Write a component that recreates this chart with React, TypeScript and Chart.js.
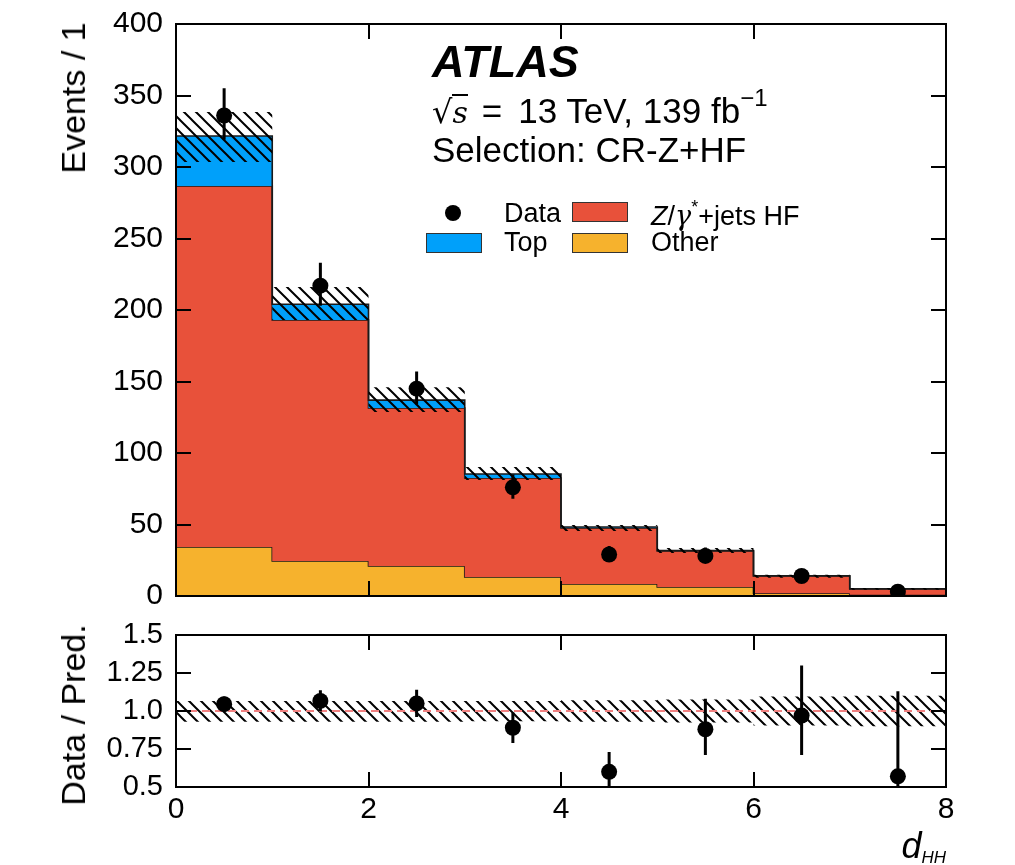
import React, { useEffect, useRef } from 'react';
import { Chart, registerables } from 'chart.js';

Chart.register(...registerables);

// ---------------- data ----------------
const binEdges = [0, 1, 2, 3, 4, 5, 6, 7, 8];
const binCenters = [0.5, 1.5, 2.5, 3.5, 4.5, 5.5, 6.5, 7.5];
const otherBkg = [34.3, 24.5, 21.0, 13.3, 8.4, 6.3, 2.0, 0.8];
const zJetsHF = [252.4, 168.5, 110.5, 69.2, 39.2, 25.2, 12.0, 4.2];
const topBkg = [35.0, 11.0, 5.5, 2.8, 0.6, 0.3, 0.2, 0.1];
const dataCounts = [336, 217, 145, 76, 29, 28, 14, 3];
const dataErrUp = [19, 16, 12, 9, 6, 6, 4.5, 2.5];
const dataErrDown = [17, 14, 11, 8, 5, 5, 3.5, 1.6];
const bandHigh = [338.5, 216, 146, 90.2, 49.7, 33.5, 14.8, 5.6];
const bandLow = [303.5, 193, 128.7, 81.1, 45.5, 30.0, 12.8, 4.4];

const ratioValues = [1.045, 1.066, 1.05, 0.89, 0.6, 0.88, 0.97, 0.57];
const ratioErrUp = [0.05, 0.07, 0.09, 0.1, 0.13, 0.2, 0.33, 0.56];
const ratioErrDown = [0.05, 0.07, 0.09, 0.1, 0.13, 0.17, 0.26, 0.5];
const ratioBandHigh = [1.066, 1.066, 1.066, 1.066, 1.07, 1.075, 1.095, 1.1];
const ratioBandLow = [0.93, 0.93, 0.93, 0.933, 0.93, 0.925, 0.905, 0.9];
const ratioRefLine = [1, 1];

const mainYTickMarks = [50, 100, 150, 200, 250, 300, 350];
const ratioYTickMarks = [0.75, 1.0, 1.25];
const xTickMarks = [2, 4, 6];
const ratioTickLabels = ['0.5', '0.75', '1.0', '1.25', '1.5'];
const xTickLabels = ['0', '2', '4', '6', '8'];

// ---------------- style ----------------
const FONT = '"Liberation Sans", Arial, Helvetica, sans-serif';
const C_OTHER = '#F6B22D';
const C_Z = '#E8513A';
const C_TOP = '#00A0FA';
const C_LINE = '#1a1a1a';

function makeHatch(): CanvasPattern {
  const s = 12;
  const c = document.createElement('canvas');
  c.width = s;
  c.height = s;
  const g = c.getContext('2d')!;
  g.strokeStyle = '#000';
  g.lineWidth = 2;
  g.beginPath();
  for (const k of [-1, 0, 1]) {
    g.moveTo(-s, -s + k * s);
    g.lineTo(2 * s, 2 * s + k * s);
  }
  g.stroke();
  return g.createPattern(c, 'repeat')!;
}

const stepPoints = (vals: number[]) =>
  binEdges.map((x, i) => ({ x, y: vals[Math.min(i, vals.length - 1)] }));

function makeErrorBars(dsIndex: number, xs: number[], ys: number[], up: number[], down: number[]) {
  return {
    id: 'errorBars' + dsIndex,
    beforeDatasetDraw(chart: any, args: any) {
      if (args.index !== dsIndex) return;
      const { ctx, chartArea: a, scales } = chart;
      ctx.save();
      ctx.beginPath();
      ctx.rect(a.left, a.top, a.right - a.left, a.bottom - a.top);
      ctx.clip();
      ctx.strokeStyle = '#000';
      ctx.lineWidth = 3;
      ctx.beginPath();
      xs.forEach((x, i) => {
        const px = scales.x.getPixelForValue(x);
        ctx.moveTo(px, scales.y.getPixelForValue(ys[i] + up[i]));
        ctx.lineTo(px, scales.y.getPixelForValue(ys[i] - down[i]));
      });
      ctx.stroke();
      ctx.restore();
    },
  };
}

function makeFrame(xTicks: number[], yTicks: number[]) {
  return {
    id: 'atlasFrame',
    afterDraw(chart: any) {
      const { ctx, chartArea: a, scales } = chart;
      const L = 15;
      ctx.save();
      ctx.strokeStyle = '#000';
      ctx.lineWidth = 2;
      ctx.strokeRect(a.left, a.top, a.right - a.left, a.bottom - a.top);
      ctx.beginPath();
      yTicks.forEach((v) => {
        const py = Math.round(scales.y.getPixelForValue(v));
        ctx.moveTo(a.left, py);
        ctx.lineTo(a.left + L, py);
        ctx.moveTo(a.right, py);
        ctx.lineTo(a.right - L, py);
      });
      xTicks.forEach((v) => {
        const px = Math.round(scales.x.getPixelForValue(v));
        ctx.moveTo(px, a.bottom);
        ctx.lineTo(px, a.bottom - L);
        ctx.moveTo(px, a.top);
        ctx.lineTo(px, a.top + L);
      });
      ctx.stroke();
      ctx.restore();
    },
  };
}

const zeroPad = (s: any) => {
  s.paddingTop = 0;
  s.paddingBottom = 0;
  s.paddingLeft = 0;
  s.paddingRight = 0;
};

const txt = (style: React.CSSProperties): React.CSSProperties => ({
  position: 'absolute',
  whiteSpace: 'nowrap',
  lineHeight: 1,
  fontFamily: FONT,
  color: '#000',
  ...style,
});

export default function App() {
  const topRef = useRef<HTMLCanvasElement>(null);
  const botRef = useRef<HTMLCanvasElement>(null);

  useEffect(() => {
    const hatch = makeHatch();
    const cumZ = otherBkg.map((v, i) => v + zJetsHF[i]);
    const cumTop = cumZ.map((v, i) => v + topBkg[i]);

    const common = {
      animation: false as const,
      responsive: false,
      devicePixelRatio: 1,
      events: [] as any[],
      plugins: { legend: { display: false }, tooltip: { enabled: false } },
    };

    const stepDs = (vals: number[], fill: any, bg: any, order: number, border = true) => ({
      data: stepPoints(vals),
      stepped: true,
      fill,
      backgroundColor: bg,
      borderColor: border ? C_LINE : 'rgba(0,0,0,0)',
      borderWidth: border ? 1.6 : 0,
      pointRadius: 0,
      order,
    });

    const c1 = new Chart(topRef.current!, {
      type: 'line',
      data: {
        datasets: [
          stepDs(otherBkg, 'origin', C_OTHER, 6),
          stepDs(cumZ, '-1', C_Z, 5),
          stepDs(cumTop, '-1', C_TOP, 4),
          stepDs(bandLow, false, 'rgba(0,0,0,0)', 3, false),
          stepDs(bandHigh, '-1', hatch, 2, false),
          {
            data: binCenters.map((x, i) => ({ x, y: dataCounts[i] })),
            showLine: false,
            pointRadius: 8,
            pointBackgroundColor: '#000',
            pointBorderColor: '#000',
            pointBorderWidth: 0,
            borderWidth: 0,
            order: 0,
          },
        ] as any,
      },
      options: {
        ...common,
        layout: { padding: { left: 0, top: 24, right: 69, bottom: 24 } },
        scales: {
          x: { type: 'linear', min: 0, max: 8, display: false },
          y: {
            type: 'linear',
            min: 0,
            max: 400,
            grid: { display: false, drawTicks: false },
            border: { display: false },
            ticks: {
              stepSize: 50,
              padding: 13,
              autoSkip: false,
              color: '#000',
              font: { family: FONT, size: 30 },
            },
            afterFit: (s: any) => {
              s.width = 176;
              zeroPad(s);
            },
          },
        },
      } as any,
      plugins: [
        makeErrorBars(5, binCenters, dataCounts, dataErrUp, dataErrDown),
        makeFrame(xTickMarks, mainYTickMarks),
      ],
    });

    const c2 = new Chart(botRef.current!, {
      type: 'line',
      data: {
        datasets: [
          stepDs(ratioBandLow, false, 'rgba(0,0,0,0)', 3, false),
          stepDs(ratioBandHigh, '-1', hatch, 2, false),
          {
            data: [0, 8].map((x, i) => ({ x, y: ratioRefLine[i] })),
            borderColor: '#F08080',
            borderWidth: 2,
            borderDash: [8, 5],
            pointRadius: 0,
            fill: false,
            order: 1,
          },
          {
            data: binCenters.map((x, i) => ({ x, y: ratioValues[i] })),
            showLine: false,
            pointRadius: 8,
            pointBackgroundColor: '#000',
            pointBorderColor: '#000',
            pointBorderWidth: 0,
            borderWidth: 0,
            order: 0,
          },
        ] as any,
      },
      options: {
        ...common,
        layout: { padding: { left: 0, top: 15, right: 69, bottom: 0 } },
        scales: {
          x: {
            type: 'linear',
            min: 0,
            max: 8,
            grid: { display: false, drawTicks: false },
            border: { display: false },
            ticks: {
              stepSize: 2,
              padding: 5,
              autoSkip: false,
              color: '#000',
              font: { family: FONT, size: 30 },
              callback: (_v: any, i: number) => xTickLabels[i],
            },
            afterFit: (s: any) => {
              s.height = 78;
              zeroPad(s);
            },
          },
          y: {
            type: 'linear',
            min: 0.5,
            max: 1.5,
            grid: { display: false, drawTicks: false },
            border: { display: false },
            ticks: {
              stepSize: 0.25,
              padding: 13,
              autoSkip: false,
              color: '#000',
              font: { family: FONT, size: 29 },
              callback: (_v: any, i: number) => ratioTickLabels[i],
            },
            afterFit: (s: any) => {
              s.width = 176;
              zeroPad(s);
            },
          },
        },
      } as any,
      plugins: [
        makeErrorBars(3, binCenters, ratioValues, ratioErrUp, ratioErrDown),
        makeFrame(xTickMarks, ratioYTickMarks),
      ],
    });

    return () => {
      c1.destroy();
      c2.destroy();
    };
  }, []);

  const box = (left: number, top: number, color: string): React.CSSProperties => ({
    position: 'absolute',
    left,
    top,
    width: 56,
    height: 20,
    background: color,
    border: '1px solid #333',
    boxSizing: 'border-box',
  });

  return (
    <div
      style={{
        position: 'absolute',
        left: 0,
        top: 0,
        width: 1015,
        height: 865,
        background: '#fff',
        overflow: 'hidden',
      }}
    >
      <canvas ref={topRef} width={1015} height={620} style={{ position: 'absolute', left: 0, top: 0 }} />
      <canvas ref={botRef} width={1015} height={245} style={{ position: 'absolute', left: 0, top: 620 }} />

      {/* ATLAS label */}
      <div style={txt({ left: 432, top: 39, fontSize: 45, fontWeight: 'bold', fontStyle: 'italic' })}>ATLAS</div>
      <div style={txt({ left: 432, top: 90, fontSize: 35 })}>
        <span style={{ fontFamily: '"DejaVu Serif", serif', fontSize: 32 }}>√</span>
        <span
          style={{
            fontFamily: '"DejaVu Serif", serif',
            fontStyle: 'italic',
            fontSize: 30,
            borderTop: '2px solid #000',
            display: 'inline-block',
            paddingTop: 2,
          }}
        >
          s
        </span>
        <span style={{ margin: '0 16px 0 14px' }}>=</span>13 TeV, 139 fb
        <sup style={{ fontSize: 24, position: 'relative', top: -4 }}>−1</sup>
      </div>
      <div style={txt({ left: 432, top: 132, fontSize: 35 })}>Selection: CR-Z+HF</div>

      {/* legend */}
      <div
        style={{
          position: 'absolute',
          left: 445,
          top: 205,
          width: 16,
          height: 16,
          borderRadius: '50%',
          background: '#000',
        }}
      />
      <div style={txt({ left: 504, top: 200, fontSize: 27 })}>Data</div>
      <div style={box(572, 202, C_Z)} />
      <div style={txt({ left: 651, top: 200, fontSize: 27 })}>
        <i>Z</i>/<i style={{ fontFamily: '"DejaVu Serif", serif' }}>γ</i>
        <sup style={{ fontSize: 18, position: 'relative', top: -2 }}>*</sup>+jets HF
      </div>
      <div style={box(426, 233, C_TOP)} />
      <div style={txt({ left: 504, top: 229, fontSize: 27 })}>Top</div>
      <div style={box(572, 233, C_OTHER)} />
      <div style={txt({ left: 651, top: 229, fontSize: 27 })}>Other</div>

      {/* axis titles */}
      <div
        style={txt({
          left: 73,
          top: 98,
          fontSize: 34,
          transform: 'translate(-50%, -50%) rotate(-90deg)',
        })}
      >
        Events / 1
      </div>
      <div
        style={txt({
          left: 73,
          top: 715,
          fontSize: 34,
          transform: 'translate(-50%, -50%) rotate(-90deg)',
        })}
      >
        Data / Pred.
      </div>
      <div style={txt({ right: 69, top: 828, fontSize: 36, fontStyle: 'italic' })}>
        d
        <span style={{ fontSize: 17, position: 'relative', top: 5 }}>HH</span>
      </div>
    </div>
  );
}
